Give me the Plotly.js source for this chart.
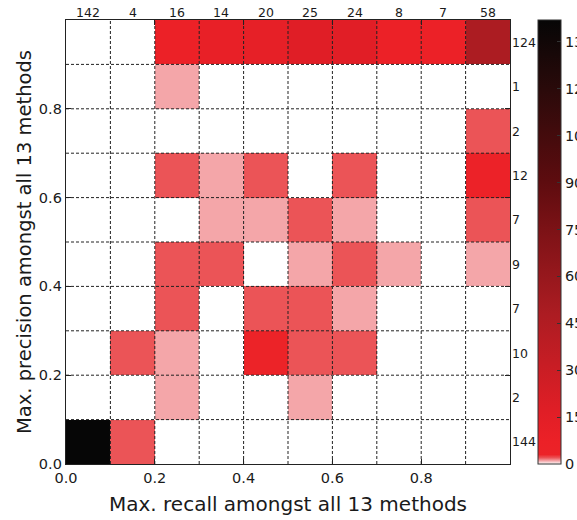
<!DOCTYPE html>
<html>
<head>
<meta charset="utf-8">
<script src="https://cdn.plot.ly/plotly-3.0.1.min.js"></script>
<style>
html,body{margin:0;padding:0;background:#fff;overflow:hidden;}
#chart{width:577px;height:520px;}
</style>
</head>
<body>
<div id="chart"></div>
<script>
// Bin edges (recall on x, precision on y)
const binEdges = [0, 0.1, 0.2, 0.3, 0.4, 0.5, 0.6, 0.7, 0.8, 0.9, 1.0];

// Counts per precision bin (rows), listed bottom (0.0-0.1) to top (0.9-1.0)
const prec00 = [142, 2, 0, 0, 0, 0, 0, 0, 0, 0];
const prec01 = [0, 0, 1, 0, 0, 1, 0, 0, 0, 0];
const prec02 = [0, 2, 1, 0, 3, 2, 2, 0, 0, 0];
const prec03 = [0, 0, 2, 0, 2, 2, 1, 0, 0, 0];
const prec04 = [0, 0, 2, 2, 0, 1, 2, 1, 0, 1];
const prec05 = [0, 0, 0, 1, 1, 2, 1, 0, 0, 2];
const prec06 = [0, 0, 2, 1, 2, 0, 2, 0, 0, 5];
const prec07 = [0, 0, 0, 0, 0, 0, 0, 0, 0, 2];
const prec08 = [0, 0, 1, 0, 0, 0, 0, 0, 0, 0];
const prec09 = [0, 0, 7, 10, 12, 17, 16, 7, 7, 48];

// Marginal totals shown on top (per recall column) and right (per precision row, bottom to top)
const colTotals = [142, 4, 16, 14, 20, 25, 24, 8, 7, 58];
const rowTotals = [144, 2, 10, 7, 9, 7, 12, 2, 1, 124];

const axisTicks = [0, 0.2, 0.4, 0.6, 0.8];
const axisTickText = ['0.0', '0.2', '0.4', '0.6', '0.8'];
const cbarTicks = [0, 15, 30, 45, 60, 75, 90, 105, 120, 135];

const zRows = [prec00, prec01, prec02, prec03, prec04, prec05, prec06, prec07, prec08, prec09];
const zMax = 142;

const colorscale = [
  [0, '#ffffff'],
  [1 / zMax, '#f4a6a9'],
  [2 / zMax, '#eb5457'],
  [3 / zMax, '#ec2328'],
  [7 / zMax, '#ec2127'],
  [17 / zMax, '#e01e26'],
  [48 / zMax, '#ac1c22'],
  [75 / zMax, '#7c1216'],
  [90 / zMax, '#5e0c0f'],
  [120 / zMax, '#2a0a0a'],
  [1, '#060606']
];

const FONT = 'DejaVu Sans, sans-serif';
const TXT = '#1a1a1a';

const trace = {
  type: 'heatmap',
  x: binEdges,
  y: binEdges,
  z: zRows,
  zmin: 0,
  zmax: zMax,
  colorscale: colorscale,
  hoverongaps: false,
  colorbar: {
    x: 1.063, xanchor: 'left', xpad: 0,
    y: 0.5, yanchor: 'middle', ypad: 0,
    thickness: 23, thicknessmode: 'pixels',
    len: 444, lenmode: 'pixels',
    outlinewidth: 1, outlinecolor: '#333',
    tickvals: cbarTicks,
    ticktext: cbarTicks.map(String),
    ticks: 'inside', ticklen: 4, tickcolor: '#333',
    tickfont: {family: FONT, size: 14.5, color: TXT}
  }
};

// dashed grid lines above the cells
const shapes = [];
for (let i = 1; i < binEdges.length - 1; i++) {
  const v = binEdges[i];
  shapes.push({type: 'line', xref: 'x', yref: 'paper', x0: v, x1: v, y0: 0, y1: 1,
    layer: 'above', line: {color: '#222', width: 1, dash: '3px,2px'}});
  shapes.push({type: 'line', xref: 'paper', yref: 'y', x0: 0, x1: 1, y0: v, y1: v,
    layer: 'above', line: {color: '#222', width: 1, dash: '3px,2px'}});
}

const annotations = [];
colTotals.forEach((t, i) => {
  annotations.push({
    xref: 'x', yref: 'paper', x: (binEdges[i] + binEdges[i + 1]) / 2, y: 1,
    xanchor: 'center', yanchor: 'bottom', yshift: -2, showarrow: false,
    text: String(t), font: {family: FONT, size: 12.5, color: TXT}
  });
});
rowTotals.forEach((t, i) => {
  annotations.push({
    xref: 'paper', yref: 'y', x: 1, y: (binEdges[i] + binEdges[i + 1]) / 2,
    xanchor: 'left', yanchor: 'middle', showarrow: false,
    text: String(t), font: {family: FONT, size: 12.5, color: TXT}
  });
});

const axisCommon = {
  range: [0, 1],
  tickvals: axisTicks,
  ticktext: axisTickText,
  ticks: 'inside', ticklen: 5, tickcolor: '#222',
  showgrid: false, zeroline: false,
  showline: true, linecolor: '#222', linewidth: 1.2, mirror: 'ticks',
  tickfont: {family: FONT, size: 14.5, color: TXT},
  automargin: false,
  fixedrange: true
};

const layout = {
  width: 577, height: 520,
  margin: {l: 66, r: 67, t: 20, b: 56, pad: 0, autoexpand: false},
  paper_bgcolor: '#ffffff',
  plot_bgcolor: '#ffffff',
  font: {family: FONT, color: TXT},
  xaxis: Object.assign({}, axisCommon, {
    title: {text: 'Max. recall amongst all 13 methods', font: {family: FONT, size: 20, color: TXT}, standoff: 12}
  }),
  yaxis: Object.assign({}, axisCommon, {
    title: {text: 'Max. precision amongst all 13 methods', font: {family: FONT, size: 19.5, color: TXT}, standoff: 2}
  }),
  shapes: shapes,
  annotations: annotations,
  showlegend: false
};

Plotly.newPlot('chart', [trace], layout, {displayModeBar: false, staticPlot: true});
</script>
</body>
</html>
